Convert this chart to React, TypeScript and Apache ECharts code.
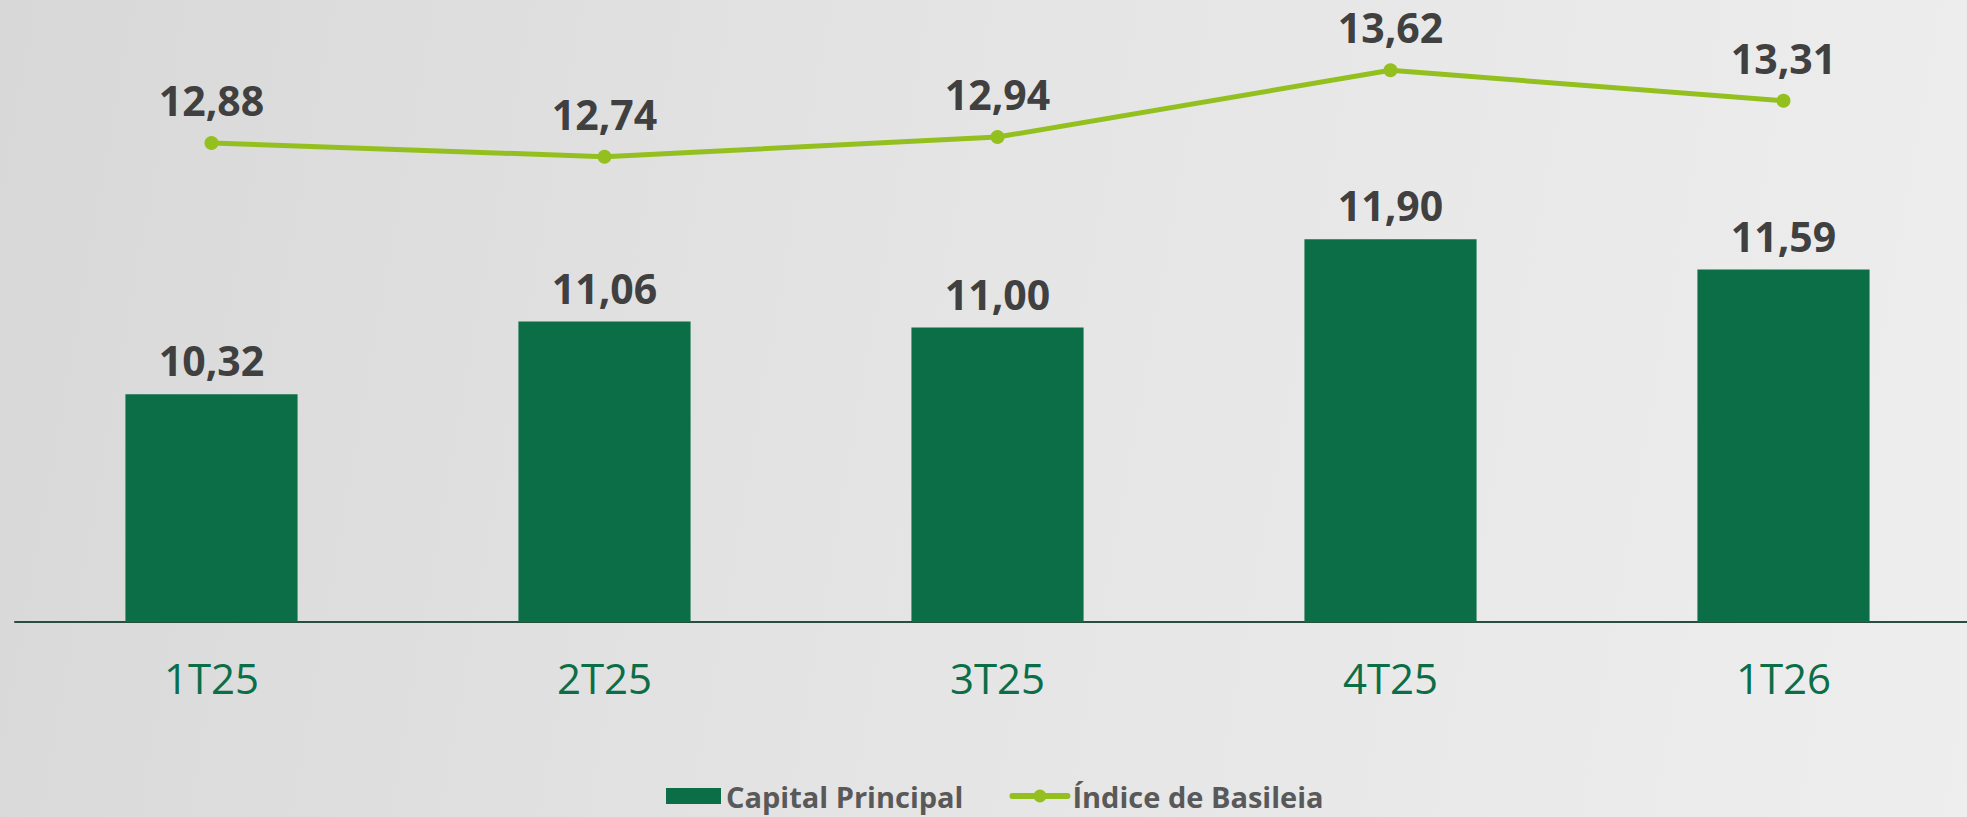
import React, { useEffect, useRef } from "react";
import * as echarts from "echarts";

const categories = ["1T25", "2T25", "3T25", "4T25", "1T26"];
const capitalPrincipal = [10.32, 11.06, 11.0, 11.9, 11.59];
const indiceBasileia = [12.88, 12.74, 12.94, 13.62, 13.31];

const fmt = (v: number) => v.toFixed(2).replace(".", ",");

export default function App() {
  const ref = useRef<HTMLDivElement>(null);
  useEffect(() => {
    document.body.style.margin = "0";
    document.body.style.overflow = "hidden";
    const chart = echarts.init(ref.current!, null, { renderer: "svg" });
    const labelFont = {
      fontFamily: "'Open Sans', sans-serif",
      fontWeight: "bold" as const,
      fontSize: 41,
      lineHeight: 48,
      color: "#404040",
    };
    chart.setOption({
      animation: false,
      backgroundColor: "transparent",
      grid: { left: 15, right: 0, top: 33, height: 589 },
      legend: {
        left: 666,
        top: 780,
        padding: 0,
        itemWidth: 55,
        itemHeight: 16,
        itemGap: 46,
        textStyle: {
          fontFamily: "'Open Sans', sans-serif",
          fontWeight: "bold",
          fontSize: 29,
          lineHeight: 32,
          color: "#595959",
        },
        data: [
          { name: "Capital Principal", icon: "rect" },
          {
            name: "Índice de Basileia",
            lineStyle: { width: 6, cap: "round" },
            itemStyle: { color: "#93c01f" },
          },
        ],
      },
      xAxis: {
        type: "category",
        data: categories,
        axisLine: { show: true, lineStyle: { color: "#274e3e", width: 2 } },
        axisTick: { show: false },
        axisLabel: {
          margin: 30,
          fontFamily: "'Liberation Sans Narrow', 'Open Sans', sans-serif",
          fontSize: 42,
          lineHeight: 50,
          color: "#0c6e47",
        },
      },
      yAxis: {
        type: "value",
        min: 8,
        max: 14,
        show: false,
        splitLine: { show: false },
      },
      series: [
        {
          name: "Capital Principal",
          type: "bar",
          data: capitalPrincipal,
          barWidth: "43.8%",
          itemStyle: { color: "#0c6e47" },
          label: {
            show: true,
            position: "top",
            distance: 10,
            formatter: (p: any) => fmt(p.value),
            ...labelFont,
          },
        },
        {
          name: "Índice de Basileia",
          type: "line",
          data: indiceBasileia,
          symbol: "circle",
          symbolSize: 14,
          lineStyle: { color: "#93c01f", width: 5 },
          itemStyle: { color: "#93c01f" },
          label: {
            show: true,
            position: "top",
            distance: 12,
            formatter: (p: any) => fmt(p.value),
            ...labelFont,
          },
        },
      ],
    });
    return () => chart.dispose();
  }, []);
  return (
    <div
      ref={ref}
      style={{
        width: 1980,
        height: 817,
        background: "linear-gradient(100deg, #d8d8d8 0%, #e4e4e4 45%, #eeeeee 100%)",
      }}
    />
  );
}
